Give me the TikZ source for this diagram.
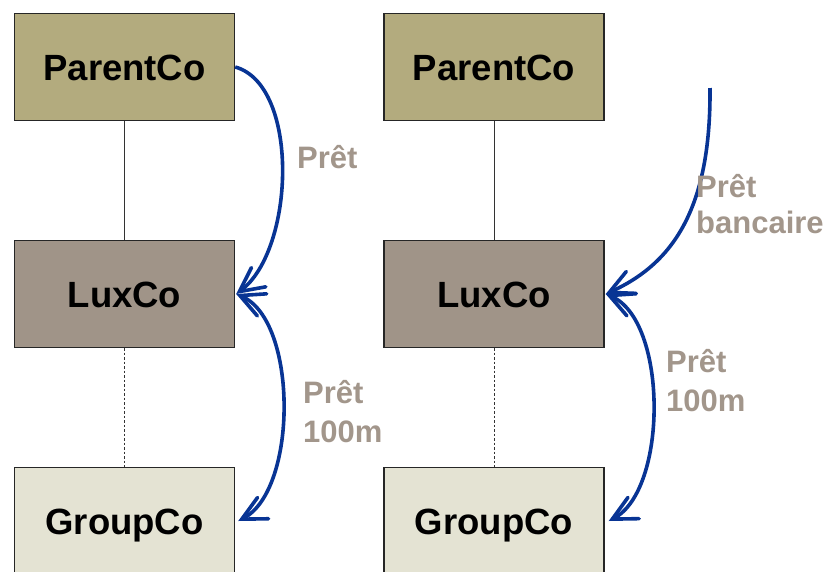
\documentclass[tikz,border=0pt]{standalone}
\usepackage{fontspec}
\setmainfont{Liberation Sans}
\usetikzlibrary{arrows.meta}
\definecolor{parentfill}{RGB}{179,171,126}
\definecolor{luxfill}{RGB}{160,148,136}
\definecolor{groupfill}{RGB}{228,227,211}
\definecolor{labelgrey}{RGB}{162,150,139}
\definecolor{loanblue}{RGB}{8,52,148}
\tikzset{
  entity/.style={draw=black!85, line width=1.4pt, minimum width=220pt,
    minimum height=107pt, inner sep=0pt, text height=26pt, text depth=0pt,
    font=\fontsize{36.5}{40}\selectfont\bfseries},
  link/.style={draw=black!80, line width=0.9pt},
  dottedlink/.style={draw=black!80, line width=0.9pt, dash pattern=on 2.5pt off 2pt},
  barb/.tip={Straight Barb[length=24pt,width=24pt,line cap=round]},
  loan/.style={draw=loanblue, line width=3.6pt, arrows={-barb}},
  loantwo/.style={draw=loanblue, line width=3.6pt, arrows={barb-barb}},
  loanlabel/.style={text=labelgrey, anchor=west, align=left, inner sep=0pt,
    font=\fontsize{31}{39}\selectfont\bfseries}
}
\begin{document}
\begin{tikzpicture}[x=1pt,y=-1pt]
  \useasboundingbox (0,0) rectangle (828,571);
  \clip (0,0) rectangle (828,571);

  % left structure
  \node[entity, fill=parentfill] (pc1)  at (124.5,67)  {ParentCo};
  \node[entity, fill=luxfill]    (lux1) at (124.5,294) {LuxCo};
  \node[entity, fill=groupfill]  (grp1) at (124.5,521) {GroupCo};

  % right structure
  \node[entity, fill=parentfill] (pc2)  at (494,67)  {ParentCo};
  \node[entity, fill=luxfill]    (lux2) at (494,294) {LuxCo};
  \node[entity, fill=groupfill]  (grp2) at (494,521) {GroupCo};

  % ownership lines
  \draw[link] (pc1.south) -- (lux1.north);
  \draw[dottedlink] (lux1.south) -- (grp1.north);
  \draw[link] (pc2.south) -- (lux2.north);
  \draw[dottedlink] (lux2.south) -- (grp2.north);

  % loans, left
  \draw[loan] (pc1.east) .. controls (300,85) and (295,250) .. ([xshift=1pt]lux1.east);
  \draw[loantwo] ([xshift=1pt]lux1.east) .. controls (298,320) and (298,490) .. ([xshift=3pt]grp1.east);

  % loans, right
  \coordinate (bank) at (710,88);
  \draw[loan] (bank) .. controls (711,210) and (672,264) .. ([xshift=1pt]lux2.east);
  \draw[loantwo] ([xshift=1pt]lux2.east) .. controls (668,320) and (668,490) .. ([xshift=4pt]grp2.east);

  % loan labels
  \node[loanlabel] (l1) at (297,157) {Prêt};
  \node[loanlabel] (l2) at (303,412) {Prêt\\100m};
  \node[loanlabel, font=\fontsize{31}{36}\selectfont\bfseries] (l3) at (696,204) {Prêt\\bancaire};
  \node[loanlabel] (l4) at (666,381) {Prêt\\100m};
\end{tikzpicture}
\end{document}
